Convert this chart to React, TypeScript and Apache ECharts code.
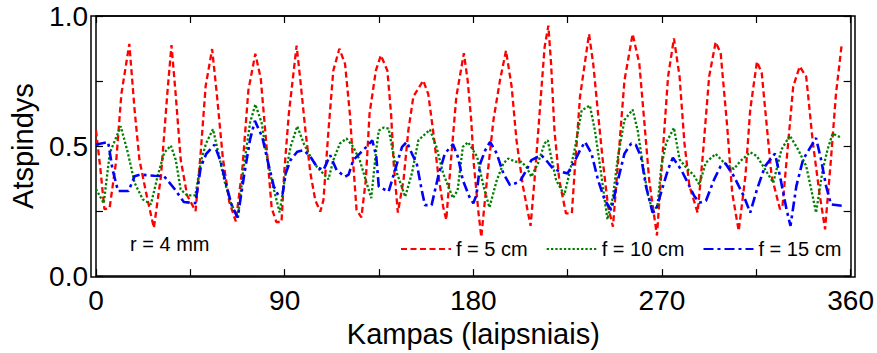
import { useEffect, useRef } from "react";
import * as echarts from "echarts";

const xTickValues = [0, 90, 180, 270, 360];
const yTickValues = [0, 0.5, 1.0];
const seriesNames = ["f = 5 cm", "f = 10 cm", "f = 15 cm"];

const redAngle = [0, 2, 4, 6.5, 9.7, 12.1, 15.9, 18.4, 20.7, 23.9, 27.6, 31, 34, 36, 38, 40.4, 43.5, 47.5, 49.9, 52.3, 55.4, 57.7, 60.5, 63.6, 66.7, 69.9, 72.7, 76, 78.6, 81.3, 83.8, 86, 88.5, 89.8, 92, 95.7, 97.5, 99.9, 102.3, 104.6, 107, 108.5, 110.9, 113.2, 116.1, 118.8, 121.1, 122.7, 124.3, 126.6, 128.7, 130.5, 133.5, 135.9, 139, 140.8, 142, 144, 146.7, 149, 151.4, 156.1, 158.5, 160.8, 163.2, 165.6, 167.1, 169.2, 171.9, 175.5, 177.3, 179, 180.2, 182.5, 183.8, 186.5, 189.6, 192.7, 195.6, 198.3, 200.6, 203.7, 207.3, 209.2, 211.6, 214, 215.8, 217.1, 218.7, 221, 224.2, 227, 228.6, 230.9, 235.2, 237.2, 239.5, 241.9, 244.3, 246.6, 249, 252.1, 256, 259.2, 261.5, 263.9, 266.3, 267.6, 270.4, 272.9, 275.7, 278.4, 280.7, 283.1, 287, 289.3, 292.5, 295.6, 298, 301.1, 303.5, 306.6, 309.8, 312.1, 315.3, 317.6, 320, 322.3, 326.3, 327.5, 330.2, 332.6, 335.7, 338.8, 342, 345.1, 347.8, 350.6, 353, 355.8];
const redValue = [0.56, 0.42, 0.257, 0.262, 0.448, 0.70, 0.893, 0.64, 0.448, 0.32, 0.185, 0.384, 0.70, 0.888, 0.70, 0.448, 0.31, 0.25, 0.47, 0.73, 0.873, 0.695, 0.455, 0.285, 0.21, 0.42, 0.715, 0.855, 0.76, 0.505, 0.262, 0.208, 0.208, 0.40, 0.625, 0.886, 0.752, 0.56, 0.395, 0.292, 0.248, 0.292, 0.56, 0.79, 0.874, 0.816, 0.625, 0.433, 0.254, 0.226, 0.369, 0.625, 0.79, 0.849, 0.79, 0.62, 0.433, 0.244, 0.369, 0.56, 0.69, 0.752, 0.70, 0.56, 0.395, 0.267, 0.216, 0.433, 0.69, 0.857, 0.752, 0.60, 0.433, 0.241, 0.15, 0.369, 0.60, 0.752, 0.867, 0.727, 0.522, 0.344, 0.193, 0.369, 0.625, 0.88, 0.963, 0.816, 0.56, 0.369, 0.241, 0.241, 0.433, 0.69, 0.931, 0.816, 0.625, 0.433, 0.267, 0.19, 0.433, 0.752, 0.931, 0.816, 0.60, 0.369, 0.229, 0.156, 0.48, 0.767, 0.914, 0.767, 0.512, 0.346, 0.244, 0.448, 0.767, 0.90, 0.857, 0.576, 0.32, 0.174, 0.384, 0.64, 0.825, 0.78, 0.576, 0.384, 0.257, 0.27, 0.512, 0.729, 0.806, 0.767, 0.512, 0.32, 0.18, 0.448, 0.70, 0.895];

const greenAngle = [0, 3.7, 6.6, 11.8, 15.2, 18.4, 22.3, 26.2, 29.4, 32.5, 35.7, 38, 40.4, 43.5, 47.4, 50, 52.5, 55.8, 58.2, 61.3, 64.4, 67.7, 70.3, 73.5, 76, 79, 81.3, 84, 87.6, 90.5, 92.8, 96, 99.1, 102.3, 105.4, 110.9, 113.2, 116.4, 119.5, 122.7, 125.8, 128.7, 131.3, 133.6, 134.9, 137.3, 139.6, 141.2, 143.6, 147.5, 150.7, 153.8, 159.3, 162.4, 165.6, 170.3, 172.5, 175, 177.5, 181.8, 184.9, 187.7, 191.2, 194.3, 196.7, 200, 203, 205.3, 207.7, 210.8, 214, 215.5, 217.1, 219.5, 223.4, 226.2, 228.6, 231.7, 235.6, 238, 240.3, 242.7, 244, 246.6, 249, 252.1, 256, 258.4, 260.8, 263.1, 265.5, 267.8, 269.7, 272, 275.7, 278.4, 282.3, 285, 287.8, 290.9, 295.6, 299.6, 304.3, 307.4, 312.1, 315.3, 319.2, 323.1, 327, 331, 334.9, 338.8, 341.2, 343.5, 346.7, 349, 351.4, 355.8];
const greenValue = [0.335, 0.28, 0.474, 0.576, 0.474, 0.359, 0.295, 0.276, 0.384, 0.474, 0.502, 0.448, 0.333, 0.31, 0.31, 0.44, 0.51, 0.565, 0.48, 0.365, 0.28, 0.225, 0.41, 0.59, 0.66, 0.59, 0.47, 0.36, 0.245, 0.395, 0.497, 0.576, 0.51, 0.459, 0.42, 0.372, 0.446, 0.51, 0.529, 0.497, 0.446, 0.369, 0.30, 0.48, 0.56, 0.571, 0.567, 0.497, 0.395, 0.305, 0.395, 0.522, 0.563, 0.497, 0.395, 0.30, 0.33, 0.497, 0.515, 0.459, 0.344, 0.264, 0.369, 0.433, 0.452, 0.44, 0.439, 0.42, 0.382, 0.433, 0.51, 0.522, 0.459, 0.369, 0.312, 0.407, 0.497, 0.637, 0.656, 0.56, 0.433, 0.292, 0.218, 0.305, 0.459, 0.60, 0.64, 0.56, 0.433, 0.318, 0.25, 0.267, 0.423, 0.512, 0.57, 0.448, 0.41, 0.39, 0.352, 0.436, 0.47, 0.436, 0.412, 0.442, 0.476, 0.461, 0.41, 0.359, 0.487, 0.54, 0.487, 0.423, 0.333, 0.244, 0.41, 0.487, 0.548, 0.531];

const blueAngle = [0, 2.5, 5.8, 7.9, 10.5, 15.5, 18.4, 21, 27.8, 32.5, 37.5, 41.9, 47.4, 50, 52.6, 56.5, 59.5, 62.3, 65, 67.6, 70.7, 73.5, 75.8, 79.3, 81.7, 84.8, 87, 89, 90.5, 92.8, 96, 99.1, 102.3, 105.4, 108.5, 111.7, 114.8, 118.8, 120.5, 122.7, 125.8, 129, 131.8, 133.7, 134.9, 139.6, 143.6, 146, 148.3, 150.7, 153, 155.4, 156.9, 160.1, 163.2, 166.4, 170.3, 172.6, 175, 178.1, 180, 181.5, 183.3, 185.7, 188, 191.2, 194.3, 197.5, 202.2, 205.3, 207.7, 212.4, 214.7, 217.9, 221.8, 225, 228.6, 230.9, 233.3, 236.4, 239.5, 242.7, 245.8, 249, 252.1, 255.3, 257.5, 260, 262.4, 265.5, 267, 270, 272.9, 275.2, 279.1, 282.3, 285.4, 287.8, 291, 294.9, 298, 300.3, 304.3, 309, 312.1, 315.3, 319.2, 323.9, 326.3, 329.4, 331.3, 334.1, 337.3, 343.5, 345.9, 348.3, 350.6, 356];
const blueValue = [0.506, 0.51, 0.515, 0.41, 0.327, 0.327, 0.384, 0.39, 0.386, 0.384, 0.335, 0.285, 0.28, 0.42, 0.47, 0.505, 0.44, 0.345, 0.265, 0.225, 0.39, 0.525, 0.597, 0.535, 0.45, 0.345, 0.31, 0.315, 0.395, 0.446, 0.478, 0.484, 0.459, 0.42, 0.407, 0.465, 0.407, 0.382, 0.39, 0.446, 0.471, 0.497, 0.522, 0.46, 0.344, 0.325, 0.433, 0.497, 0.516, 0.471, 0.433, 0.33, 0.273, 0.273, 0.382, 0.471, 0.507, 0.459, 0.369, 0.305, 0.28, 0.312, 0.433, 0.484, 0.516, 0.471, 0.395, 0.35, 0.363, 0.407, 0.446, 0.465, 0.446, 0.414, 0.401, 0.395, 0.446, 0.484, 0.516, 0.471, 0.369, 0.292, 0.254, 0.369, 0.471, 0.51, 0.505, 0.459, 0.344, 0.245, 0.25, 0.333, 0.41, 0.455, 0.41, 0.359, 0.308, 0.282, 0.29, 0.372, 0.423, 0.433, 0.384, 0.308, 0.244, 0.333, 0.423, 0.471, 0.384, 0.257, 0.193, 0.346, 0.448, 0.531, 0.448, 0.346, 0.276, 0.27];

const pairs = (xs: number[], ys: number[]) => xs.map((x, i) => [x, ys[i]]);

const FONT = "'Liberation Sans', Arial, sans-serif";
const GRID = { left: 91, right: 22, top: 16, bottom: 76 };
const W = 877;
const H = 353;

export default function App() {
  const ref = useRef<HTMLDivElement>(null);
  useEffect(() => {
    const chart = echarts.init(ref.current!, null, { renderer: "svg" });
    const mkLine = () => ({ show: true, onZero: false, lineStyle: { color: "#000", width: 1.5 } });
    const mkTick = () => ({ show: true, inside: true, length: 7, lineStyle: { color: "#000", width: 1.2 } });
    chart.setOption({
      animation: false,
      backgroundColor: "#fff",
      grid: { ...GRID, containLabel: false },
      legend: {
        left: 395,
        top: 234,
        itemWidth: 50,
        itemHeight: 14,
        itemGap: 18,
        itemStyle: { opacity: 0 },
        textStyle: { fontFamily: FONT, fontSize: 20, color: "#000" },
        data: seriesNames,
      },
      graphic: [
        {
          type: "rect",
          silent: true,
          z: 10,
          shape: {
            x: GRID.left,
            y: GRID.top,
            width: W - GRID.left - GRID.right,
            height: H - GRID.top - GRID.bottom,
          },
          style: { fill: "none", stroke: "#000", lineWidth: 1.5 },
        },
        {
          type: "text",
          left: 130,
          top: 234,
          style: { text: "r = 4 mm", font: `20px ${FONT}`, fill: "#000" },
        },
      ],
      xAxis: [
        {
          type: "value",
          min: 0,
          max: 360,
          interval: 45,
          position: "bottom",
          axisLine: mkLine(),
          axisTick: mkTick(),
          splitLine: { show: false },
          axisLabel: {
            color: "#000",
            fontFamily: FONT,
            fontSize: 28,
            margin: 10,
            showMinLabel: true,
            showMaxLabel: true,
            formatter: (v: number) => (xTickValues.includes(v) ? String(v) : ""),
          },
          name: "Kampas (laipsniais)",
          nameLocation: "middle",
          nameGap: 42,
          nameTextStyle: { color: "#000", fontFamily: FONT, fontSize: 29 },
        },
        {
          type: "value",
          min: 0,
          max: 360,
          interval: 45,
          position: "top",
          axisLine: mkLine(),
          axisTick: mkTick(),
          splitLine: { show: false },
          axisLabel: { show: false },
        },
      ],
      yAxis: [
        {
          type: "value",
          min: 0,
          max: 1,
          interval: 0.25,
          position: "left",
          axisLine: mkLine(),
          axisTick: mkTick(),
          splitLine: { show: false },
          axisLabel: {
            color: "#000",
            fontFamily: FONT,
            fontSize: 28,
            margin: 8,
            showMinLabel: true,
            showMaxLabel: true,
            formatter: (v: number) =>
              yTickValues.some((t) => Math.abs(t - v) < 1e-9) ? v.toFixed(1) : "",
          },
          name: "Atspindys",
          nameLocation: "middle",
          nameRotate: 90,
          nameGap: 59,
          nameTextStyle: { color: "#000", fontFamily: FONT, fontSize: 29 },
        },
        {
          type: "value",
          min: 0,
          max: 1,
          interval: 0.25,
          position: "right",
          axisLine: mkLine(),
          axisTick: mkTick(),
          splitLine: { show: false },
          axisLabel: { show: false },
        },
      ],
      series: [
        {
          name: seriesNames[0],
          type: "line",
          symbol: "none",
          xAxisIndex: 0,
          yAxisIndex: 0,
          data: pairs(redAngle, redValue),
          lineStyle: { color: "#ff0000", width: 2.3, type: [6, 3.5] },
          itemStyle: { color: "#ff0000" },
        },
        {
          name: seriesNames[1],
          type: "line",
          symbol: "none",
          xAxisIndex: 1,
          yAxisIndex: 1,
          data: pairs(greenAngle, greenValue),
          lineStyle: { color: "#008000", width: 2.3, type: [2.3, 2] },
          itemStyle: { color: "#008000" },
        },
        {
          name: seriesNames[2],
          type: "line",
          symbol: "none",
          xAxisIndex: 0,
          yAxisIndex: 0,
          data: pairs(blueAngle, blueValue),
          lineStyle: { color: "#0000ff", width: 2.6, type: [10, 4, 3, 4] },
          itemStyle: { color: "#0000ff" },
        },
      ],
    });
    return () => chart.dispose();
  }, []);
  return (
    <div
      ref={ref}
      style={{ position: "absolute", left: 0, top: 0, width: W, height: H }}
    />
  );
}
